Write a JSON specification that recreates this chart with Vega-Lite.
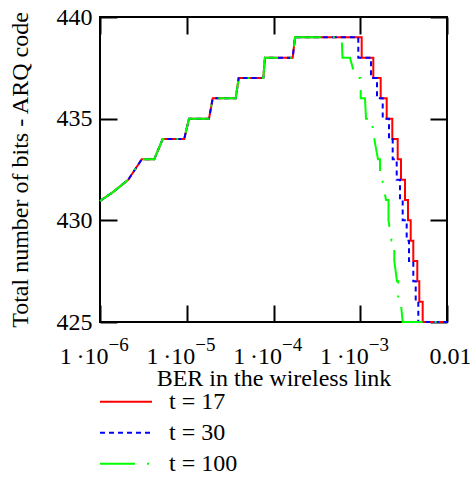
{
  "$schema": "https://vega.github.io/schema/vega-lite/v6.json",
  "width": 347,
  "height": 305,
  "autosize": "none",
  "padding": {"left": 100, "top": 17, "right": 23, "bottom": 157},
  "config": {
    "font": "Liberation Serif",
    "view": {"stroke": "black", "strokeWidth": 2},
    "axis": {
      "grid": false,
      "domain": false,
      "labelFont": "Liberation Serif",
      "titleFont": "Liberation Serif",
      "labelColor": "black",
      "titleColor": "black",
      "tickColor": "black",
      "tickWidth": 2,
      "labelFontSize": 24,
      "titleFontSize": 24,
      "titleFontWeight": "normal",
      "labelFlush": false,
      "labelOverlap": false,
      "labelBound": false
    },
    "legend": {
      "orient": "none",
      "legendX": -1,
      "legendY": 369.2,
      "padding": 0,
      "title": null,
      "symbolType": "stroke",
      "symbolSize": 2704,
      "symbolStrokeWidth": 2,
      "labelFont": "Liberation Serif",
      "labelFontSize": 24,
      "labelColor": "black",
      "labelOffset": 16,
      "clipHeight": 31,
      "rowPadding": 0
    }
  },
  "datasets": {
    "curves": [
      {"series": "t = 17", "i": 0, "ber": 1e-6, "bits": 430.95},
      {"series": "t = 17", "i": 1, "ber": 1.423e-6, "bits": 431.4},
      {"series": "t = 17", "i": 2, "ber": 2.12e-6, "bits": 432.0},
      {"series": "t = 17", "i": 3, "ber": 3.025e-6, "bits": 433},
      {"series": "t = 17", "i": 4, "ber": 4.215e-6, "bits": 433},
      {"series": "t = 17", "i": 5, "ber": 5.28e-6, "bits": 434},
      {"series": "t = 17", "i": 6, "ber": 9.35e-6, "bits": 434},
      {"series": "t = 17", "i": 7, "ber": 1.062e-5, "bits": 435},
      {"series": "t = 17", "i": 8, "ber": 1.805e-5, "bits": 435},
      {"series": "t = 17", "i": 9, "ber": 1.991e-5, "bits": 436},
      {"series": "t = 17", "i": 10, "ber": 3.667e-5, "bits": 436},
      {"series": "t = 17", "i": 11, "ber": 3.97e-5, "bits": 437},
      {"series": "t = 17", "i": 12, "ber": 7.625e-5, "bits": 437},
      {"series": "t = 17", "i": 13, "ber": 7.98e-5, "bits": 438},
      {"series": "t = 17", "i": 14, "ber": 1.665e-4, "bits": 438},
      {"series": "t = 17", "i": 15, "ber": 1.769e-4, "bits": 439},
      {"series": "t = 17", "i": 16, "ber": 1.039e-3, "bits": 439},
      {"series": "t = 17", "i": 17, "ber": 1.039e-3, "bits": 438},
      {"series": "t = 17", "i": 18, "ber": 1.414e-3, "bits": 438},
      {"series": "t = 17", "i": 19, "ber": 1.414e-3, "bits": 437},
      {"series": "t = 17", "i": 20, "ber": 1.72e-3, "bits": 437},
      {"series": "t = 17", "i": 21, "ber": 1.72e-3, "bits": 436},
      {"series": "t = 17", "i": 22, "ber": 2.018e-3, "bits": 436},
      {"series": "t = 17", "i": 23, "ber": 2.018e-3, "bits": 435},
      {"series": "t = 17", "i": 24, "ber": 2.341e-3, "bits": 435},
      {"series": "t = 17", "i": 25, "ber": 2.341e-3, "bits": 434},
      {"series": "t = 17", "i": 26, "ber": 2.702e-3, "bits": 434},
      {"series": "t = 17", "i": 27, "ber": 2.702e-3, "bits": 433},
      {"series": "t = 17", "i": 28, "ber": 2.949e-3, "bits": 433},
      {"series": "t = 17", "i": 29, "ber": 2.949e-3, "bits": 432},
      {"series": "t = 17", "i": 30, "ber": 3.28e-3, "bits": 432},
      {"series": "t = 17", "i": 31, "ber": 3.28e-3, "bits": 431},
      {"series": "t = 17", "i": 32, "ber": 3.552e-3, "bits": 431},
      {"series": "t = 17", "i": 33, "ber": 3.552e-3, "bits": 430},
      {"series": "t = 17", "i": 34, "ber": 3.817e-3, "bits": 430},
      {"series": "t = 17", "i": 35, "ber": 3.817e-3, "bits": 429},
      {"series": "t = 17", "i": 36, "ber": 4.088e-3, "bits": 429},
      {"series": "t = 17", "i": 37, "ber": 4.088e-3, "bits": 428},
      {"series": "t = 17", "i": 38, "ber": 4.546e-3, "bits": 428},
      {"series": "t = 17", "i": 39, "ber": 4.546e-3, "bits": 427},
      {"series": "t = 17", "i": 40, "ber": 4.794e-3, "bits": 427},
      {"series": "t = 17", "i": 41, "ber": 4.794e-3, "bits": 426},
      {"series": "t = 17", "i": 42, "ber": 5.246e-3, "bits": 426},
      {"series": "t = 17", "i": 43, "ber": 5.246e-3, "bits": 425},
      {"series": "t = 17", "i": 44, "ber": 1e-2, "bits": 425},

      {"series": "t = 30", "i": 0, "ber": 1e-6, "bits": 430.95},
      {"series": "t = 30", "i": 1, "ber": 1.423e-6, "bits": 431.4},
      {"series": "t = 30", "i": 2, "ber": 2.12e-6, "bits": 432.0},
      {"series": "t = 30", "i": 3, "ber": 3.025e-6, "bits": 433},
      {"series": "t = 30", "i": 4, "ber": 4.215e-6, "bits": 433},
      {"series": "t = 30", "i": 5, "ber": 5.28e-6, "bits": 434},
      {"series": "t = 30", "i": 6, "ber": 9.35e-6, "bits": 434},
      {"series": "t = 30", "i": 7, "ber": 1.062e-5, "bits": 435},
      {"series": "t = 30", "i": 8, "ber": 1.805e-5, "bits": 435},
      {"series": "t = 30", "i": 9, "ber": 1.991e-5, "bits": 436},
      {"series": "t = 30", "i": 10, "ber": 3.667e-5, "bits": 436},
      {"series": "t = 30", "i": 11, "ber": 3.97e-5, "bits": 437},
      {"series": "t = 30", "i": 12, "ber": 7.625e-5, "bits": 437},
      {"series": "t = 30", "i": 13, "ber": 7.98e-5, "bits": 438},
      {"series": "t = 30", "i": 14, "ber": 1.665e-4, "bits": 438},
      {"series": "t = 30", "i": 15, "ber": 1.769e-4, "bits": 439},
      {"series": "t = 30", "i": 16, "ber": 9.495e-4, "bits": 439},
      {"series": "t = 30", "i": 17, "ber": 9.495e-4, "bits": 438},
      {"series": "t = 30", "i": 18, "ber": 1.33e-3, "bits": 438},
      {"series": "t = 30", "i": 19, "ber": 1.33e-3, "bits": 437},
      {"series": "t = 30", "i": 20, "ber": 1.56e-3, "bits": 437},
      {"series": "t = 30", "i": 21, "ber": 1.56e-3, "bits": 436},
      {"series": "t = 30", "i": 22, "ber": 1.815e-3, "bits": 436},
      {"series": "t = 30", "i": 23, "ber": 1.815e-3, "bits": 435},
      {"series": "t = 30", "i": 24, "ber": 2.145e-3, "bits": 435},
      {"series": "t = 30", "i": 25, "ber": 2.145e-3, "bits": 434},
      {"series": "t = 30", "i": 26, "ber": 2.366e-3, "bits": 434},
      {"series": "t = 30", "i": 27, "ber": 2.366e-3, "bits": 433},
      {"series": "t = 30", "i": 28, "ber": 2.632e-3, "bits": 433},
      {"series": "t = 30", "i": 29, "ber": 2.632e-3, "bits": 432},
      {"series": "t = 30", "i": 30, "ber": 2.872e-3, "bits": 432},
      {"series": "t = 30", "i": 31, "ber": 2.872e-3, "bits": 431},
      {"series": "t = 30", "i": 32, "ber": 3.085e-3, "bits": 431},
      {"series": "t = 30", "i": 33, "ber": 3.085e-3, "bits": 430},
      {"series": "t = 30", "i": 34, "ber": 3.43e-3, "bits": 430},
      {"series": "t = 30", "i": 35, "ber": 3.43e-3, "bits": 429},
      {"series": "t = 30", "i": 36, "ber": 3.648e-3, "bits": 429},
      {"series": "t = 30", "i": 37, "ber": 3.648e-3, "bits": 428},
      {"series": "t = 30", "i": 38, "ber": 4.088e-3, "bits": 428},
      {"series": "t = 30", "i": 39, "ber": 4.088e-3, "bits": 427},
      {"series": "t = 30", "i": 40, "ber": 4.357e-3, "bits": 427},
      {"series": "t = 30", "i": 41, "ber": 4.357e-3, "bits": 426},
      {"series": "t = 30", "i": 42, "ber": 4.668e-3, "bits": 426},
      {"series": "t = 30", "i": 43, "ber": 4.668e-3, "bits": 425},
      {"series": "t = 30", "i": 44, "ber": 1e-2, "bits": 425},

      {"series": "t = 100", "i": 0, "ber": 1e-6, "bits": 430.95},
      {"series": "t = 100", "i": 1, "ber": 1.423e-6, "bits": 431.4},
      {"series": "t = 100", "i": 2, "ber": 2.12e-6, "bits": 432.0},
      {"series": "t = 100", "i": 3, "ber": 3.025e-6, "bits": 433},
      {"series": "t = 100", "i": 4, "ber": 4.215e-6, "bits": 433},
      {"series": "t = 100", "i": 5, "ber": 5.28e-6, "bits": 434},
      {"series": "t = 100", "i": 6, "ber": 9.35e-6, "bits": 434},
      {"series": "t = 100", "i": 7, "ber": 1.062e-5, "bits": 435},
      {"series": "t = 100", "i": 8, "ber": 1.805e-5, "bits": 435},
      {"series": "t = 100", "i": 9, "ber": 1.991e-5, "bits": 436},
      {"series": "t = 100", "i": 10, "ber": 3.667e-5, "bits": 436},
      {"series": "t = 100", "i": 11, "ber": 3.97e-5, "bits": 437},
      {"series": "t = 100", "i": 12, "ber": 7.625e-5, "bits": 437},
      {"series": "t = 100", "i": 13, "ber": 7.98e-5, "bits": 438},
      {"series": "t = 100", "i": 14, "ber": 1.665e-4, "bits": 438},
      {"series": "t = 100", "i": 15, "ber": 1.769e-4, "bits": 439},
      {"series": "t = 100", "i": 16, "ber": 6.111e-4, "bits": 439},
      {"series": "t = 100", "i": 17, "ber": 6.242e-4, "bits": 438},
      {"series": "t = 100", "i": 18, "ber": 7.615e-4, "bits": 438},
      {"series": "t = 100", "i": 19, "ber": 8.814e-4, "bits": 437},
      {"series": "t = 100", "i": 20, "ber": 1.012e-3, "bits": 437},
      {"series": "t = 100", "i": 21, "ber": 1.012e-3, "bits": 436},
      {"series": "t = 100", "i": 22, "ber": 1.134e-3, "bits": 436},
      {"series": "t = 100", "i": 23, "ber": 1.165e-3, "bits": 435},
      {"series": "t = 100", "i": 24, "ber": 1.391e-3, "bits": 435},
      {"series": "t = 100", "i": 25, "ber": 1.391e-3, "bits": 434},
      {"series": "t = 100", "i": 26, "ber": 1.452e-3, "bits": 434},
      {"series": "t = 100", "i": 27, "ber": 1.602e-3, "bits": 433},
      {"series": "t = 100", "i": 28, "ber": 1.689e-3, "bits": 433},
      {"series": "t = 100", "i": 29, "ber": 1.689e-3, "bits": 432},
      {"series": "t = 100", "i": 30, "ber": 1.795e-3, "bits": 432},
      {"series": "t = 100", "i": 31, "ber": 1.981e-3, "bits": 431},
      {"series": "t = 100", "i": 32, "ber": 2.117e-3, "bits": 431},
      {"series": "t = 100", "i": 33, "ber": 2.117e-3, "bits": 430},
      {"series": "t = 100", "i": 34, "ber": 2.292e-3, "bits": 429},
      {"series": "t = 100", "i": 35, "ber": 2.469e-3, "bits": 429},
      {"series": "t = 100", "i": 36, "ber": 2.469e-3, "bits": 428},
      {"series": "t = 100", "i": 37, "ber": 2.652e-3, "bits": 427},
      {"series": "t = 100", "i": 38, "ber": 2.745e-3, "bits": 427},
      {"series": "t = 100", "i": 39, "ber": 2.745e-3, "bits": 426},
      {"series": "t = 100", "i": 40, "ber": 2.926e-3, "bits": 426},
      {"series": "t = 100", "i": 41, "ber": 3.085e-3, "bits": 425},
      {"series": "t = 100", "i": 42, "ber": 1e-2, "bits": 425}
    ]
  },
  "data": {"name": "curves"},
  "resolve": {"axis": {"x": "independent", "y": "independent"}},
  "layer": [
    {
      "transform": [{"filter": "datum.series === 't = 17'"}],
      "mark": {"type": "line", "strokeWidth": 2, "clip": false},
      "encoding": {
        "x": {
          "field": "ber", "type": "quantitative",
          "scale": {"type": "log", "domain": [1e-6, 1e-2], "nice": false},
          "axis": {
            "orient": "bottom",
            "values": [1e-6, 1e-5, 1e-4, 1e-3, 1e-2],
            "tickSize": -17,
            "labelExpr": "datum.value > 0.005 ? '0.01' : '1\u2009·10'",
            "labelAlign": {"condition": {"test": "datum.value > 0.005", "value": "center"}, "value": "right"},
            "labelOffset": {"condition": {"test": "datum.value > 0.005", "value": 3}, "value": 8},
            "labelBaseline": "alphabetic",
            "labelPadding": 58,
            "title": "BER in the wireless link",
            "titlePadding": -2
          }
        },
        "y": {
          "field": "bits", "type": "quantitative",
          "scale": {"domain": [425, 440], "nice": false, "zero": false},
          "axis": {
            "orient": "left",
            "values": [425, 430, 435, 440],
            "tickSize": -17,
            "labelPadding": 25,
            "labelBaseline": "middle",
            "title": "Total number of bits - ARQ code",
            "titlePadding": 24
          }
        },
        "color": {
          "field": "series", "type": "nominal",
          "scale": {"domain": ["t = 17", "t = 30", "t = 100"], "range": ["#ff0000", "#0000ff", "#00ff00"]}
        },
        "strokeDash": {
          "field": "series", "type": "nominal",
          "scale": {"domain": ["t = 17", "t = 30", "t = 100"], "range": [[1, 0], [5, 4], [35, 12, 2, 12]]}
        },
        "order": {"field": "i", "type": "quantitative"}
      }
    },
    {
      "transform": [{"filter": "datum.series === 't = 30'"}],
      "mark": {"type": "line", "strokeWidth": 2, "clip": false},
      "encoding": {
        "x": {
          "field": "ber", "type": "quantitative",
          "scale": {"type": "log", "domain": [1e-6, 1e-2], "nice": false},
          "axis": {
            "orient": "bottom",
            "values": [1e-6, 1e-5, 1e-4, 1e-3],
            "ticks": false,
            "domain": false,
            "labelExpr": "datum.value < 5e-6 ? '−6' : datum.value < 5e-5 ? '−5' : datum.value < 5e-4 ? '−4' : '−3'",
            "labelAlign": "left",
            "labelOffset": 8,
            "labelFontSize": 19,
            "labelBaseline": "alphabetic",
            "labelPadding": 28,
            "title": null
          }
        },
        "y": {
          "field": "bits", "type": "quantitative",
          "scale": {"domain": [425, 440], "nice": false, "zero": false},
          "axis": null
        },
        "color": {"field": "series", "type": "nominal"},
        "strokeDash": {"field": "series", "type": "nominal"},
        "order": {"field": "i", "type": "quantitative"}
      }
    },
    {
      "transform": [{"filter": "datum.series === 't = 100'"}],
      "mark": {"type": "line", "strokeWidth": 2, "clip": false},
      "encoding": {
        "x": {
          "field": "ber", "type": "quantitative",
          "scale": {"type": "log", "domain": [1e-6, 1e-2], "nice": false},
          "axis": {
            "orient": "top",
            "values": [1e-6, 1e-5, 1e-4, 1e-3, 1e-2],
            "tickSize": -17,
            "labels": false,
            "domain": false,
            "title": null
          }
        },
        "y": {
          "field": "bits", "type": "quantitative",
          "scale": {"domain": [425, 440], "nice": false, "zero": false},
          "axis": {
            "orient": "right",
            "values": [425, 430, 435, 440],
            "tickSize": -17,
            "labels": false,
            "domain": false,
            "title": null
          }
        },
        "color": {"field": "series", "type": "nominal"},
        "strokeDash": {"field": "series", "type": "nominal"},
        "order": {"field": "i", "type": "quantitative"}
      }
    }
  ]
}
